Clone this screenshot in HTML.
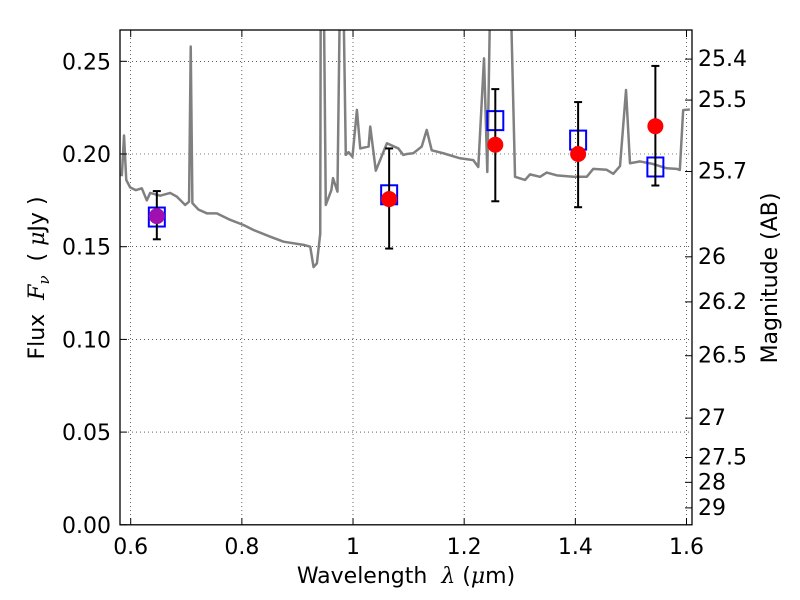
<!DOCTYPE html>
<html><head><meta charset="utf-8"><style>
html,body{margin:0;padding:0;background:#fff;}
svg{display:block;font-family:"DejaVu Sans","Liberation Sans",sans-serif;}
</style></head><body>
<svg id="chart" width="800" height="600" xmlns="http://www.w3.org/2000/svg">
<rect width="800" height="600" fill="#fff"/>
<defs><clipPath id="pc"><rect x="120" y="30" width="572" height="495"/></clipPath></defs>
<g id="grid"></g>
<g id="spec" clip-path="url(#pc)"></g>
<g id="marks" clip-path="url(#pc)"></g>
<rect x="120" y="30" width="572" height="494.8" fill="none" stroke="#000" stroke-width="1.3"/>
<g id="axes"></g>
<text x="406" y="583" font-size="22" text-anchor="middle" xml:space="preserve">Wavelength  <tspan font-style="italic" font-family="DejaVu Serif,serif">λ</tspan> (<tspan font-style="italic" font-family="DejaVu Serif,serif">μ</tspan>m)</text>
<text transform="translate(44,278) rotate(-90)" font-size="22" text-anchor="middle" xml:space="preserve">Flux  <tspan font-style="italic" font-family="DejaVu Serif,serif">F</tspan><tspan font-style="italic" font-size="15" dy="5" font-family="DejaVu Serif,serif">ν</tspan><tspan dy="-5">  ( </tspan><tspan font-style="italic" font-family="DejaVu Serif,serif">μ</tspan>Jy )</text>
<text transform="translate(777,278) rotate(-90)" font-size="22" text-anchor="middle">Magnitude (AB)</text>
</svg>
<script>
const specWave=[0.584,0.588,0.592,0.599,0.609,0.620,0.629,0.635,0.653,0.671,0.683,0.698,0.705,0.708,0.711,0.722,0.737,0.755,0.779,0.803,0.821,0.851,0.875,0.911,0.923,0.929,0.935,0.941,0.942,0.947,0.951,0.961,0.964,0.972,0.977,0.982,0.987,0.992,0.999,1.007,1.013,1.028,1.031,1.041,1.061,1.0815,1.0905,1.0966,1.1085,1.1236,1.1326,1.1416,1.1624,1.1925,1.2164,1.2254,1.2357,1.2416,1.2477,1.2825,1.2915,1.3095,1.3185,1.3365,1.3485,1.3665,1.3963,1.4205,1.4323,1.4564,1.4683,1.4804,1.4912,1.4983,1.5164,1.540,1.5644,1.582,1.588,1.594,1.606];
const specFlux=[0.188,0.210,0.186,0.182,0.1805,0.1815,0.175,0.179,0.1775,0.179,0.177,0.1725,0.1743,0.258,0.1735,0.170,0.168,0.168,0.1645,0.1617,0.159,0.1554,0.1527,0.151,0.150,0.139,0.141,0.157,0.30,0.30,0.1725,0.1805,0.187,0.1797,0.30,0.30,0.1995,0.201,0.1985,0.2238,0.203,0.204,0.2148,0.191,0.2058,0.203,0.1995,0.200,0.2004,0.204,0.213,0.202,0.2004,0.1977,0.1967,0.193,0.2516,0.1903,0.30,0.30,0.1877,0.186,0.189,0.1877,0.190,0.1885,0.1877,0.1877,0.192,0.1915,0.1893,0.1935,0.2345,0.195,0.196,0.1946,0.1923,0.192,0.1914,0.2237,0.224];
const ptWave=[0.647,1.065,1.256,1.405,1.544];
const obsFlux=[0.1665,0.1757,0.205,0.200,0.215];
const obsErrLo=[0.154,0.149,0.1745,0.1713,0.183];
const obsErrHi=[0.180,0.203,0.235,0.228,0.2475];
const modelFlux=[0.166,0.178,0.218,0.2075,0.193];
const xTicks=[0.6,0.8,1.0,1.2,1.4,1.6];
const xTickLabels=["0.6","0.8","1","1.2","1.4","1.6"];
const yTicks=[0,0.05,0.10,0.15,0.20,0.25];
const yTickLabels=["0.00","0.05","0.10","0.15","0.20","0.25"];
const magTicks=[25.4,25.5,25.7,26,26.2,26.5,27,27.5,28,29];
const magTickLabels=["25.4","25.5","25.7","26","26.2","26.5","27","27.5","28","29"];

const NS="http://www.w3.org/2000/svg";
const X=w=>130.7+(w-0.6)*555.8;
const Y=f=>524.8-f*1854;
const magY=m=>Y(Math.pow(10,(23.9-m)/2.5));
function mk(t,a,p){const e=document.createElementNS(NS,t);for(const k in a)e.setAttribute(k,a[k]);p.appendChild(e);return e;}
const grid=document.getElementById('grid'),axes=document.getElementById('axes'),spec=document.getElementById('spec'),marks=document.getElementById('marks');

xTicks.forEach((v,i)=>{
  const g=mk('line',{x1:X(v),x2:X(v),y1:30,y2:524.8,stroke:'#000','stroke-width':0.6,'stroke-dasharray':'1,3'},grid);
  
  
  mk('line',{x1:X(v),x2:X(v),y1:524.8,y2:518,stroke:'#000'},axes);
  mk('line',{x1:X(v),x2:X(v),y1:30,y2:37,stroke:'#000'},axes);
  const t=mk('text',{x:X(v),y:554,'font-size':22,'text-anchor':'middle'},axes);
  t.textContent=xTickLabels[i];
  
  
});
yTicks.forEach((v,i)=>{
  if(v>0){const g=mk('line',{x1:120,x2:692,y1:Y(v),y2:Y(v),stroke:'#000','stroke-width':0.6,'stroke-dasharray':'1,3'},grid);
  
  }
  mk('line',{x1:120,x2:127,y1:Y(v),y2:Y(v),stroke:'#000'},axes);
  const t=mk('text',{x:111,y:Y(v)+8,'font-size':22,'text-anchor':'end'},axes);
  t.textContent=yTickLabels[i];
  
  
});
magTicks.forEach((m,i)=>{
  const y=magY(m);
  mk('line',{x1:692,x2:685,y1:y,y2:y,stroke:'#000'},axes);
  const t=mk('text',{x:698,y:y+7,'font-size':22},axes);
  t.textContent=magTickLabels[i];
  
  
});

const pl=mk('polyline',{points:specWave.map((w,i)=>X(w)+','+Y(specFlux[i])).join(' '),fill:'none',stroke:'#808080','stroke-width':2.5,'stroke-linejoin':'round'},spec);



ptWave.forEach((w,i)=>{
  const x=X(w);
  const s=mk('rect',{x:x-8,y:Y(modelFlux[i])-9.5,width:16,height:19,fill:'none',stroke:'#0000ff','stroke-width':2},marks);
  
  
  const eb=mk('g',{stroke:'#000','stroke-width':2},marks);
  
  
  mk('line',{x1:x,x2:x,y1:Y(obsErrLo[i]),y2:Y(obsErrHi[i])},eb);
  mk('line',{x1:x-4,x2:x+4,y1:Y(obsErrLo[i]),y2:Y(obsErrLo[i])},eb);
  mk('line',{x1:x-4,x2:x+4,y1:Y(obsErrHi[i]),y2:Y(obsErrHi[i])},eb);
  const c=mk('circle',{cx:x,cy:Y(obsFlux[i]),r:8,fill:i===0?'#a010b0':'#ff0000'},marks);
  
  
});
</script>
</body></html>
